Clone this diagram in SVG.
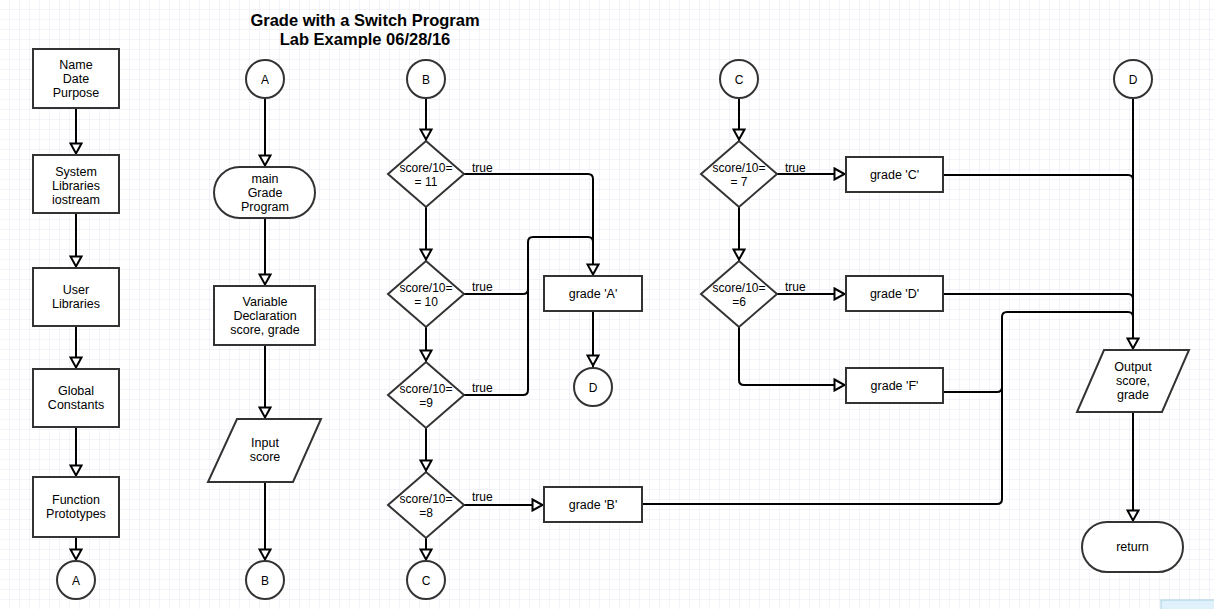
<svg xmlns="http://www.w3.org/2000/svg" width="1214" height="609" viewBox="0 0 1214 609">
<style>
.n{fill:#fff;stroke:#333;stroke-width:2}
.c{fill:none;stroke:#000;stroke-width:2;stroke-linejoin:round}
.t{font-family:"Liberation Sans",Arial,sans-serif;font-size:12.5px;fill:#000;text-anchor:middle}
.s{font-family:"Liberation Sans",Arial,sans-serif;font-size:12px;fill:#000;text-anchor:middle}
.l{font-family:"Liberation Sans",Arial,sans-serif;font-size:12px;fill:#000}
.h{font-family:"Liberation Sans",Arial,sans-serif;font-size:16.5px;font-weight:bold;fill:#000;text-anchor:middle}
</style>
<defs>
<pattern id="g" width="10" height="10" patternUnits="userSpaceOnUse">
<path d="M10,0 V10 M0,10 H10" fill="none" stroke="#e6e6f2" stroke-width="1"/>
</pattern>
<marker id="arr" markerUnits="userSpaceOnUse" markerWidth="16" markerHeight="14" viewBox="0 0 16 14" refX="13.5" refY="7" orient="auto">
<path d="M2,1.5 L12,7 L2,12.5 Z" fill="#fff" stroke="#000" stroke-width="2"/>
</marker>
</defs>
<rect width="1214" height="609" fill="#fff"/>
<rect width="1214" height="609" fill="url(#g)"/>

<g id="title">
<text class="h" x="365" y="26">Grade with a Switch Program</text>
<text class="h" x="365" y="45">Lab Example 06/28/16</text>
</g>

<g id="connectors">
<path class="c" marker-end="url(#arr)" d="M76,108 V155"/>
<path class="c" marker-end="url(#arr)" d="M76,213 V268"/>
<path class="c" marker-end="url(#arr)" d="M76,326 V369"/>
<path class="c" marker-end="url(#arr)" d="M76,427 V477"/>
<path class="c" marker-end="url(#arr)" d="M76,537 V561"/>

<path class="c" marker-end="url(#arr)" d="M265,98 V167"/>
<path class="c" marker-end="url(#arr)" d="M265,218 V286"/>
<path class="c" marker-end="url(#arr)" d="M265,345 V419"/>
<path class="c" marker-end="url(#arr)" d="M265,482 V561"/>

<path class="c" marker-end="url(#arr)" d="M426,98 V141"/>
<path class="c" marker-end="url(#arr)" d="M426,207 V261"/>
<path class="c" marker-end="url(#arr)" d="M426,327 V362"/>
<path class="c" marker-end="url(#arr)" d="M426,428 V472"/>
<path class="c" marker-end="url(#arr)" d="M426,538 V561"/>

<path class="c" marker-end="url(#arr)" d="M464,174 H588 Q593,174 593,179 V276"/>
<path class="c" d="M464,294 H523 Q528,294 528,289 V242 Q528,237 533,237 H588 Q593,237 593,242 V260"/>
<path class="c" d="M464,395 H523 Q528,395 528,390 V260"/>
<path class="c" marker-end="url(#arr)" d="M464,505 H544"/>
<path class="c" marker-end="url(#arr)" d="M593,311 V367"/>

<path class="c" marker-end="url(#arr)" d="M739,98 V141"/>
<path class="c" marker-end="url(#arr)" d="M739,207 V261"/>
<path class="c" marker-end="url(#arr)" d="M777,174 H846"/>
<path class="c" marker-end="url(#arr)" d="M777,294 H846"/>
<path class="c" marker-end="url(#arr)" d="M739,327 V380 Q739,385 744,385 H846"/>

<path class="c" d="M943,175 H1128 Q1133,175 1133,180 V330"/>
<path class="c" d="M943,294 H1128 Q1133,294 1133,299 V330"/>
<path class="c" d="M642,504 H997 Q1002,504 1002,499 V317 Q1002,312 1007,312 H1128 Q1133,312 1133,317 V330"/>
<path class="c" d="M943,392 H997 Q1002,392 1002,387 V330"/>
<path class="c" marker-end="url(#arr)" d="M1133,98 V350"/>
<path class="c" marker-end="url(#arr)" d="M1133,412 V522"/>
</g>

<g id="n-name"><rect class="n" x="33" y="49" width="86" height="59"/>
<text class="t" x="76" y="69">Name</text><text class="t" x="76" y="83">Date</text><text class="t" x="76" y="97">Purpose</text></g>
<g id="n-syslib"><rect class="n" x="33" y="155" width="86" height="58"/>
<text class="t" x="76" y="176">System</text><text class="t" x="76" y="190">Libraries</text><text class="t" x="76" y="204">iostream</text></g>
<g id="n-userlib"><rect class="n" x="33" y="268" width="86" height="58"/>
<text class="t" x="76" y="294">User</text><text class="t" x="76" y="308">Libraries</text></g>
<g id="n-global"><rect class="n" x="33" y="369" width="86" height="58"/>
<text class="t" x="76" y="395">Global</text><text class="t" x="76" y="409">Constants</text></g>
<g id="n-proto"><rect class="n" x="33" y="477" width="86" height="60"/>
<text class="t" x="76" y="503.5">Function</text><text class="t" x="76" y="517.5">Prototypes</text></g>
<g id="n-a1"><circle class="n" cx="76" cy="580" r="19"/><text class="s" x="76" y="584.5">A</text></g>

<g id="n-a2"><circle class="n" cx="265" cy="79" r="19"/><text class="s" x="265" y="83.5">A</text></g>
<g id="n-main"><rect class="n" x="214" y="167" width="101" height="51" rx="25.5"/>
<text class="t" x="265" y="183">main</text><text class="t" x="265" y="197">Grade</text><text class="t" x="265" y="211">Program</text></g>
<g id="n-var"><rect class="n" x="214" y="286" width="101" height="59"/>
<text class="t" x="265" y="306">Variable</text><text class="t" x="265" y="320">Declaration</text><text class="t" x="265" y="334">score, grade</text></g>
<g id="n-input"><polygon class="n" points="237,419 321,419 293,482 208,482"/>
<text class="t" x="265" y="447">Input</text><text class="t" x="265" y="461">score</text></g>
<g id="n-b1"><circle class="n" cx="265" cy="580" r="19"/><text class="s" x="265" y="584.5">B</text></g>

<g id="n-b2"><circle class="n" cx="426" cy="79" r="19"/><text class="s" x="426" y="83.5">B</text></g>
<g id="n-d11"><polygon class="n" points="426,141 464,174 426,207 388,174"/>
<text class="s" x="426" y="172">score/10=</text><text class="s" x="426" y="186">= 11</text></g>
<g id="n-d10"><polygon class="n" points="426,261 464,294 426,327 388,294"/>
<text class="s" x="426" y="292">score/10=</text><text class="s" x="426" y="306">= 10</text></g>
<g id="n-d9"><polygon class="n" points="426,362 464,395 426,428 388,395"/>
<text class="s" x="426" y="393">score/10=</text><text class="s" x="426" y="407">=9</text></g>
<g id="n-d8"><polygon class="n" points="426,472 464,505 426,538 388,505"/>
<text class="s" x="426" y="503">score/10=</text><text class="s" x="426" y="517">=8</text></g>
<g id="n-c1"><circle class="n" cx="426" cy="580" r="19"/><text class="s" x="426" y="584.5">C</text></g>

<g id="n-ga"><rect class="n" x="544" y="276" width="98" height="35"/><text class="t" x="593" y="298">grade 'A'</text></g>
<g id="n-d1"><circle class="n" cx="593" cy="387" r="19"/><text class="s" x="593" y="391.5">D</text></g>
<g id="n-gb"><rect class="n" x="544" y="487" width="98" height="35"/><text class="t" x="593" y="509">grade 'B'</text></g>

<g id="n-c2"><circle class="n" cx="739" cy="79" r="19"/><text class="s" x="739" y="83.5">C</text></g>
<g id="n-d7"><polygon class="n" points="739,141 777,174 739,207 701,174"/>
<text class="s" x="739" y="172">score/10=</text><text class="s" x="739" y="186">= 7</text></g>
<g id="n-d6"><polygon class="n" points="739,261 777,294 739,327 701,294"/>
<text class="s" x="739" y="292">score/10=</text><text class="s" x="739" y="306">=6</text></g>
<g id="n-gc"><rect class="n" x="846" y="157" width="97" height="35"/><text class="t" x="894.5" y="179">grade 'C'</text></g>
<g id="n-gd"><rect class="n" x="846" y="276" width="97" height="35"/><text class="t" x="894.5" y="298">grade 'D'</text></g>
<g id="n-gf"><rect class="n" x="846" y="368" width="97" height="35"/><text class="t" x="894.5" y="390">grade 'F'</text></g>

<g id="n-d2"><circle class="n" cx="1133" cy="79" r="19"/><text class="s" x="1133" y="83.5">D</text></g>
<g id="n-output"><polygon class="n" points="1104,350 1189,350 1162,412 1077,412"/>
<text class="t" x="1133" y="371">Output</text><text class="t" x="1133" y="385">score,</text><text class="t" x="1133" y="399">grade</text></g>
<g id="n-return"><rect class="n" x="1082" y="522" width="101" height="50" rx="25"/><text class="t" x="1132.5" y="551">return</text></g>

<g id="labels">
<text class="l" x="472" y="172">true</text>
<text class="l" x="472" y="291">true</text>
<text class="l" x="472" y="392">true</text>
<text class="l" x="472" y="501">true</text>
<text class="l" x="785" y="172">true</text>
<text class="l" x="785" y="291">true</text>
</g>

<rect x="1161" y="600" width="60" height="12" fill="#dff1fb" stroke="#a8cfe0" stroke-width="1"/>
</svg>
